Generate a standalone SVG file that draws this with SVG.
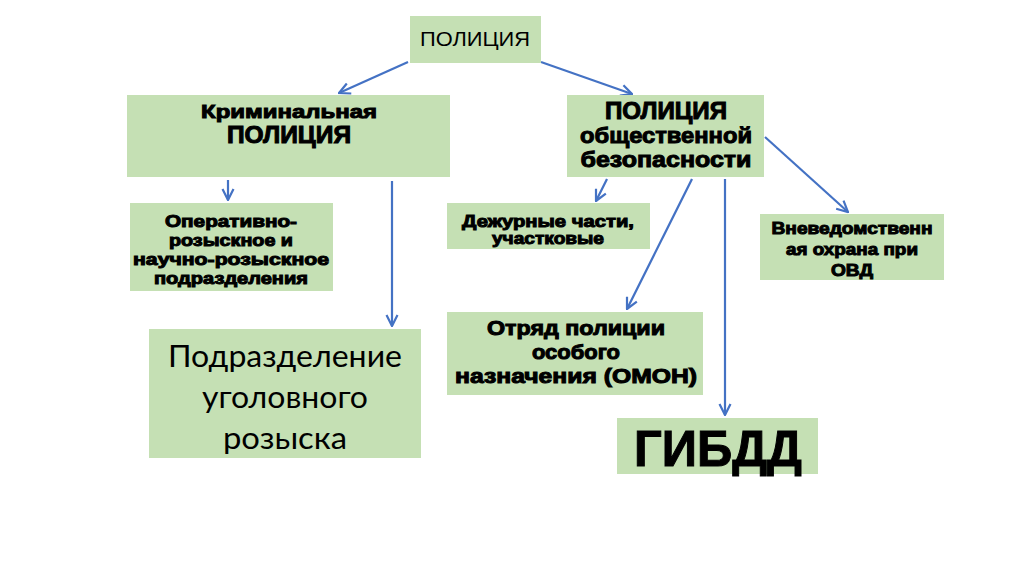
<svg xmlns="http://www.w3.org/2000/svg" width="1024" height="574" viewBox="0 0 1024 574">
<defs>
<style>
.box{fill:#C5E0B4}
.hv{font-family:"Liberation Sans",Arial,sans-serif;font-weight:700;fill:#000;stroke:#000;stroke-width:1;text-anchor:middle}
.rg{font-family:"Liberation Sans",Arial,sans-serif;fill:#000;text-anchor:middle}
.cal{font-family:Lato,"Open Sans",sans-serif;fill:#000;text-anchor:middle}
.con{stroke:#4472C4;stroke-width:2.2;fill:none;marker-end:url(#ah)}
</style>
<marker id="ah" viewBox="0 0 12 12" refX="11" refY="6" markerWidth="6" markerHeight="6" markerUnits="strokeWidth" orient="auto">
<path d="M1,1 L11,6 L1,11" fill="none" stroke="#4472C4" stroke-width="2"/>
</marker>
</defs>
<rect width="1024" height="574" fill="#fff"/>
<g id="connectors">
<line class="con" x1="408" y1="62" x2="339" y2="93"/>
<line class="con" x1="541" y1="62" x2="632" y2="94"/>
<line class="con" x1="228" y1="180" x2="228" y2="200"/>
<line class="con" x1="392" y1="181" x2="392" y2="326"/>
<line class="con" x1="607" y1="179" x2="596" y2="201"/>
<line class="con" x1="692" y1="179" x2="627" y2="309"/>
<line class="con" x1="725" y1="179" x2="725" y2="415"/>
<line class="con" x1="765" y1="137" x2="848" y2="212"/>
</g>
<g id="n-police">
<rect class="box" x="410" y="16" width="131" height="47"/>
<text class="rg" x="475" y="46" font-size="20" textLength="110" lengthAdjust="spacingAndGlyphs">ПОЛИЦИЯ</text>
</g>
<g id="n-criminal">
<rect class="box" x="127" y="95" width="323" height="82"/>
<text class="hv" x="289" y="118" font-size="19" textLength="176" lengthAdjust="spacingAndGlyphs">Криминальная</text>
<text class="hv" x="289" y="143" font-size="23" textLength="124" lengthAdjust="spacingAndGlyphs">ПОЛИЦИЯ</text>
</g>
<g id="n-public">
<rect class="box" x="567" y="95" width="197" height="82"/>
<text class="hv" x="666" y="119" font-size="23" textLength="122" lengthAdjust="spacingAndGlyphs">ПОЛИЦИЯ</text>
<text class="hv" x="666" y="143" font-size="22" textLength="172" lengthAdjust="spacingAndGlyphs">общественной</text>
<text class="hv" x="666" y="167" font-size="22" textLength="171" lengthAdjust="spacingAndGlyphs">безопасности</text>
</g>
<g id="n-operative">
<rect class="box" x="130" y="203" width="203" height="88"/>
<text class="hv" x="231" y="227" font-size="16.5" textLength="132" lengthAdjust="spacingAndGlyphs">Оперативно-</text>
<text class="hv" x="231" y="246" font-size="16.5" textLength="124" lengthAdjust="spacingAndGlyphs">розыскное и</text>
<text class="hv" x="231" y="265" font-size="16.5" textLength="196" lengthAdjust="spacingAndGlyphs">научно-розыскное</text>
<text class="hv" x="231" y="284" font-size="16.5" textLength="154" lengthAdjust="spacingAndGlyphs">подразделения</text>
</g>
<g id="n-duty">
<rect class="box" x="447" y="203" width="203" height="46"/>
<text class="hv" x="548" y="227" font-size="16.5" textLength="172" lengthAdjust="spacingAndGlyphs">Дежурные части,</text>
<text class="hv" x="548" y="244" font-size="16.5" textLength="112" lengthAdjust="spacingAndGlyphs">участковые</text>
</g>
<g id="n-guard">
<rect class="box" x="760" y="214" width="184" height="66"/>
<text class="hv" x="852" y="234" font-size="16.5" textLength="161" lengthAdjust="spacingAndGlyphs">Вневедомственн</text>
<text class="hv" x="852" y="255" font-size="16.5" textLength="132" lengthAdjust="spacingAndGlyphs">ая охрана при</text>
<text class="hv" x="852" y="276" font-size="16.5" textLength="42" lengthAdjust="spacingAndGlyphs">ОВД</text>
</g>
<g id="n-criminal-investigation">
<rect class="box" x="149" y="329" width="272" height="129"/>
<text class="cal" x="285" y="367" font-size="31" textLength="234" lengthAdjust="spacingAndGlyphs">Подразделение</text>
<text class="cal" x="285" y="408" font-size="31" textLength="166" lengthAdjust="spacingAndGlyphs">уголовного</text>
<text class="cal" x="285" y="449" font-size="31" textLength="124" lengthAdjust="spacingAndGlyphs">розыска</text>
</g>
<g id="n-omon">
<rect class="box" x="447" y="312" width="256" height="83"/>
<text class="hv" x="576" y="335" font-size="20" textLength="178" lengthAdjust="spacingAndGlyphs">Отряд полиции</text>
<text class="hv" x="576" y="359" font-size="20" textLength="88" lengthAdjust="spacingAndGlyphs">особого</text>
<text class="hv" x="576" y="383" font-size="20" textLength="242" lengthAdjust="spacingAndGlyphs">назначения (ОМОН)</text>
</g>
<g id="n-gibdd">
<rect class="box" x="617" y="418" width="201" height="56"/>
<text class="hv" x="718" y="466" font-size="50" stroke-width="2.2" textLength="168" lengthAdjust="spacingAndGlyphs">ГИБДД</text>
</g>
</svg>
